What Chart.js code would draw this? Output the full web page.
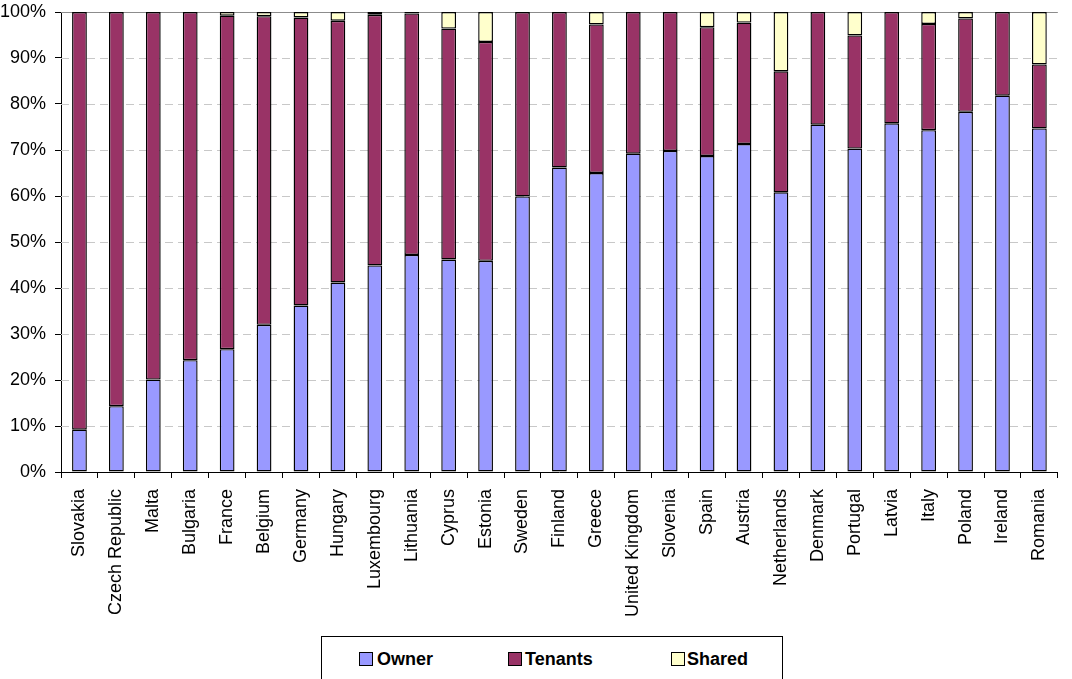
<!DOCTYPE html>
<html>
<head>
<meta charset="utf-8">
<script src="https://cdn.jsdelivr.net/npm/chart.js@4/dist/chart.umd.min.js"></script>
<style>
  html, body { margin: 0; padding: 0; background: #fff; }
  #wrap { position: relative; width: 1072px; height: 679px; overflow: hidden; font-family: "Liberation Sans", Arial, sans-serif; }
  #chart { position: absolute; left: 0; top: 0; }
  #legend { position: absolute; left: 321px; top: 636px; width: 462px; height: 60px; border: 1px solid #000; box-sizing: border-box; background: #fff; }
  .sw { position: absolute; top: 15px; width: 12px; height: 12px; border: 1px solid #000; }
  .lt { position: absolute; top: 12px; font-weight: bold; font-size: 18px; line-height: 20px; color: #000; }
</style>
</head>
<body>
<div id="wrap">
  <canvas id="chart" width="1072" height="679"></canvas>
  <div id="legend"></div>
</div>
<script>
// Housing tenure shares by country (percent of households)
const countries = ["Slovakia", "Czech Republic", "Malta", "Bulgaria", "France", "Belgium", "Germany",
  "Hungary", "Luxembourg", "Lithuania", "Cyprus", "Estonia", "Sweden", "Finland", "Greece",
  "United Kingdom", "Slovenia", "Spain", "Austria", "Netherlands", "Denmark", "Portugal",
  "Latvia", "Italy", "Poland", "Ireland", "Romania"];

const owner   = [9.2, 14.3, 20.1, 24.3, 26.7, 32.0, 36.2, 41.2, 44.9, 47.2, 46.2, 45.9, 59.9, 66.2,
  65.0, 69.2, 69.8, 68.7, 71.3, 60.8, 75.5, 70.3, 75.8, 74.3, 78.3, 81.8, 74.7];
const tenants = [90.8, 85.7, 79.9, 75.7, 72.5, 67.1, 62.6, 56.9, 54.5, 52.5, 50.2, 47.6, 40.1, 33.8,
  32.3, 30.8, 30.2, 28.0, 26.4, 26.3, 24.5, 24.6, 24.2, 23.1, 20.3, 18.2, 13.9];
const shared  = [0, 0, 0, 0, 0.8, 0.9, 1.2, 1.9, 0.6, 0.3, 3.6, 6.5, 0, 0,
  2.7, 0, 0, 3.3, 2.3, 12.9, 0, 5.1, 0, 2.6, 1.4, 0, 11.4];

const yTicks = [0, 10, 20, 30, 40, 50, 60, 70, 80, 90, 100];

const seriesNames = ["Owner", "Tenants", "Shared"];
const seriesColors = ["#9999FF", "#993366", "#FFFFCC"];

const FONT = "'Liberation Sans', Arial, sans-serif";

// Dashed horizontal grid lines, solid grey line at the top of the plot
const gridPlugin = {
  id: "dashedGrid",
  beforeDatasetsDraw(chart) {
    const { ctx, chartArea, scales } = chart;
    const y = scales.y;
    ctx.save();
    ctx.lineWidth = 1;
    yTicks.forEach(v => {
      if (v === 0) return;
      const py = Math.round(y.getPixelForValue(v)) + 0.5;
      if (v === 100) {
        ctx.setLineDash([]);
        ctx.strokeStyle = "#8c8c8c";
      } else {
        ctx.setLineDash([8, 5]);
        ctx.strokeStyle = "#c8c8c8";
      }
      ctx.beginPath();
      ctx.moveTo(chartArea.left, py);
      ctx.lineTo(chartArea.right, py);
      ctx.stroke();
    });
    ctx.restore();
  }
};

const data = {
  labels: countries,
  datasets: [owner, tenants, shared].map((vals, i) => ({
    label: seriesNames[i],
    data: vals,
    backgroundColor: seriesColors[i],
    borderColor: "#000",
    borderWidth: 1.4,
    borderSkipped: false,
    categoryPercentage: 1.0,
    barPercentage: 0.4
  }))
};

new Chart(document.getElementById("chart"), {
  type: "bar",
  data,
  plugins: [gridPlugin],
  options: {
    responsive: false,
    animation: false,
    devicePixelRatio: 1,
    layout: { padding: { top: 0, right: 1, left: 0, bottom: 0 } },
    plugins: { legend: { display: false }, tooltip: { enabled: false } },
    scales: {
      x: {
        stacked: true,
        offset: true,
        grid: { offset: true, drawOnChartArea: false, drawTicks: true, tickLength: 6, color: "#000" },
        border: { display: true, color: "#000", width: 1 },
        ticks: {
          autoSkip: false, maxRotation: 90, minRotation: 90, padding: 11,
          color: "#000", font: { family: FONT, size: 18 }
        },
        afterFit(scale) { scale.height = 207; }
      },
      y: {
        stacked: true,
        min: 0, max: 100,
        afterBuildTicks(scale) { scale.ticks = yTicks.map(v => ({ value: v })); },
        grid: { drawOnChartArea: false, drawTicks: true, tickLength: 6, color: "#000" },
        border: { display: true, color: "#000", width: 1 },
        ticks: {
          padding: 9, color: "#000", font: { family: FONT, size: 18 },
          callback: v => v + "%"
        },
        afterFit(scale) {
          scale.width = 61;
          scale.paddingTop = 12;
          scale.paddingBottom = 12;
        }
      }
    }
  }
});

// Legend
const legend = document.getElementById("legend");
const swatchX = [37, 186, 349];
const textX = [55, 203, 365];
seriesNames.forEach((name, i) => {
  const sw = document.createElement("div");
  sw.className = "sw";
  sw.style.left = swatchX[i] + "px";
  sw.style.background = seriesColors[i];
  legend.appendChild(sw);
  const t = document.createElement("div");
  t.className = "lt";
  t.style.left = textX[i] + "px";
  t.textContent = name;
  legend.appendChild(t);
});
</script>
</body>
</html>
